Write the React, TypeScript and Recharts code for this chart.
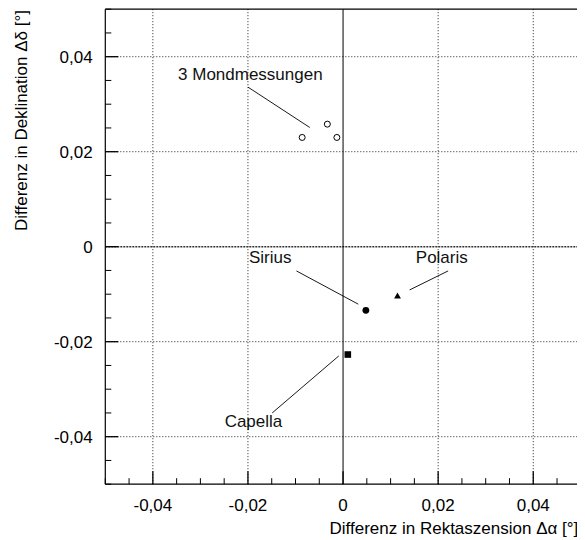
import React from 'react';
import { ScatterChart, Scatter, XAxis, YAxis, ReferenceLine } from 'recharts';

const FONT = '"Liberation Sans", Arial, Helvetica, sans-serif';

// Data
const moonPoints = [
  { x: -0.0086, y: 0.023 },
  { x: -0.0033, y: 0.0258 },
  { x: -0.0013, y: 0.023 },
];
const siriusPoint = [{ x: 0.0048, y: -0.0134 }];
const polarisPoint = [{ x: 0.01145, y: -0.0104 }];
const capellaPoint = [{ x: 0.001, y: -0.0227 }];

// Annotation texts (left/baseline anchor in data units)
const annotationLabels = [
  { label: '3 Mondmessungen', x: -0.0347, y: 0.035 },
  { label: 'Sirius', x: -0.0198, y: -0.0035 },
  { label: 'Polaris', x: 0.0153, y: -0.0035 },
  { label: 'Capella', x: -0.0249, y: -0.0379 },
];

// Leader lines
const leaderLines = [
  { x1: -0.02, y1: 0.0336, x2: -0.007, y2: 0.0251 },
  { x1: -0.0098, y1: -0.0051, x2: 0.0032, y2: -0.0121 },
  { x1: 0.0221, y1: -0.0051, x2: 0.014, y2: -0.0091 },
  { x1: -0.0149, y1: -0.035, x2: -0.0009, y2: -0.023 },
];

// Ticks
const majorTicks = [-0.04, -0.02, 0, 0.02, 0.04];
const allTicks = [
  -0.05, -0.045, -0.04, -0.035, -0.03, -0.025, -0.02, -0.015, -0.01, -0.005, 0,
  0.005, 0.01, 0.015, 0.02, 0.025, 0.03, 0.035, 0.04, 0.045, 0.05,
];
const gridValues = [-0.04, -0.02, 0.02, 0.04];
const domain: [number, number] = [-0.05, 0.05];
const xTitle = 'Differenz in Rektaszension Δα [°]';
const yTitle = 'Differenz in Deklination Δδ [°]';

const isMajor = (v: number) => majorTicks.some((m) => Math.abs(m - v) < 1e-9);
const fmt = (v: number) => (Math.abs(v) < 1e-9 ? '0' : v.toFixed(2).replace('.', ','));

const XTick = (props: any) => {
  const { x, y, payload } = props;
  const v = payload.value;
  const major = isMajor(v);
  return (
    <g>
      <line x1={x} y1={y} x2={x} y2={y - (major ? 13 : 6)} stroke="#000" strokeWidth={major ? 1.3 : 1} />
      {major && (
        <text x={x} y={y + 27} textAnchor="middle" fontSize={17} fontFamily={FONT} fill="#000">
          {fmt(v)}
        </text>
      )}
    </g>
  );
};

const YTick = (props: any) => {
  const { x, y, payload } = props;
  const v = payload.value;
  const major = isMajor(v);
  return (
    <g>
      <line x1={x} y1={y} x2={x + (major ? 13 : 6)} y2={y} stroke="#000" strokeWidth={major ? 1.3 : 1} />
      {major && (
        <text x={x - 12.6} y={y + 6} textAnchor="end" fontSize={17} fontFamily={FONT} fill="#000">
          {fmt(v)}
        </text>
      )}
    </g>
  );
};

const dotted = { stroke: '#222', strokeWidth: 1, strokeDasharray: '1 2' };

export default function App() {
  return (
    <div style={{ position: 'relative', width: 577, height: 532 }}>
      <ScatterChart width={577} height={532} margin={{ top: 1.2, right: 4.2, left: 0, bottom: 0 }}>
        <XAxis
          type="number"
          dataKey="x"
          domain={domain}
          ticks={allTicks}
          interval={0}
          allowDataOverflow
          tickSize={0}
          tickMargin={0}
          tickLine={false}
          axisLine={{ stroke: '#000', strokeWidth: 1.2 }}
          tick={(p: any) => <XTick {...p} />}
          height={55.8}
        />
        <YAxis
          type="number"
          dataKey="y"
          domain={domain}
          ticks={allTicks}
          interval={0}
          allowDataOverflow
          tickSize={0}
          tickMargin={0}
          tickLine={false}
          axisLine={{ stroke: '#000', strokeWidth: 1.2 }}
          tick={(p: any) => <YTick {...p} />}
          width={97.3}
        />
        {gridValues.map((v) => (
          <ReferenceLine key={'gx' + v} x={v} {...dotted} />
        ))}
        {gridValues.map((v) => (
          <ReferenceLine key={'gy' + v} y={v} {...dotted} />
        ))}
        <ReferenceLine y={0} stroke="#333" strokeWidth={1.5} strokeDasharray="2 1" />
        <ReferenceLine x={0} stroke="#000" strokeWidth={1} />
        <ReferenceLine x={0.05} stroke="#000" strokeWidth={1.2} />
        <ReferenceLine y={0.05} stroke="#000" strokeWidth={1.2} />
        {leaderLines.map((l, i) => (
          <ReferenceLine
            key={'l' + i}
            segment={[{ x: l.x1, y: l.y1 }, { x: l.x2, y: l.y2 }]}
            stroke="#000"
            strokeWidth={0.9}
          />
        ))}
        <Scatter
          data={moonPoints}
          isAnimationActive={false}
          shape={(p: any) => <circle cx={p.cx} cy={p.cy} r={3} fill="#fff" stroke="#000" strokeWidth={1} />}
        />
        <Scatter
          data={siriusPoint}
          isAnimationActive={false}
          shape={(p: any) => <circle cx={p.cx} cy={p.cy} r={3.4} fill="#000" />}
        />
        <Scatter
          data={polarisPoint}
          isAnimationActive={false}
          shape={(p: any) => (
            <polygon
              points={`${p.cx},${p.cy - 3.6} ${p.cx + 3.4},${p.cy + 2.4} ${p.cx - 3.4},${p.cy + 2.4}`}
              fill="#000"
            />
          )}
        />
        <Scatter
          data={capellaPoint}
          isAnimationActive={false}
          shape={(p: any) => <rect x={p.cx - 3.3} y={p.cy - 3.3} width={6.6} height={6.6} fill="#000" />}
        />
        <Scatter
          data={annotationLabels}
          isAnimationActive={false}
          shape={(p: any) => (
            <text x={p.cx} y={p.cy} fontSize={17} fontFamily={FONT} fill="#111">
              {p.payload.label}
            </text>
          )}
        />
      </ScatterChart>
      <svg
        width={577}
        height={532}
        style={{ position: 'absolute', left: 0, top: 0, pointerEvents: 'none' }}
      >
        <text x={570.3} y={525.5} textAnchor="end" fontSize={17} fontFamily={FONT} fill="#000">
          {xTitle}
        </text>
        <text
          x={18.5}
          y={2}
          transform="rotate(-90, 18.5, 2)"
          textAnchor="end"
          fontSize={17}
          fontFamily={FONT}
          fill="#000"
        >
          {yTitle}
        </text>
      </svg>
    </div>
  );
}
